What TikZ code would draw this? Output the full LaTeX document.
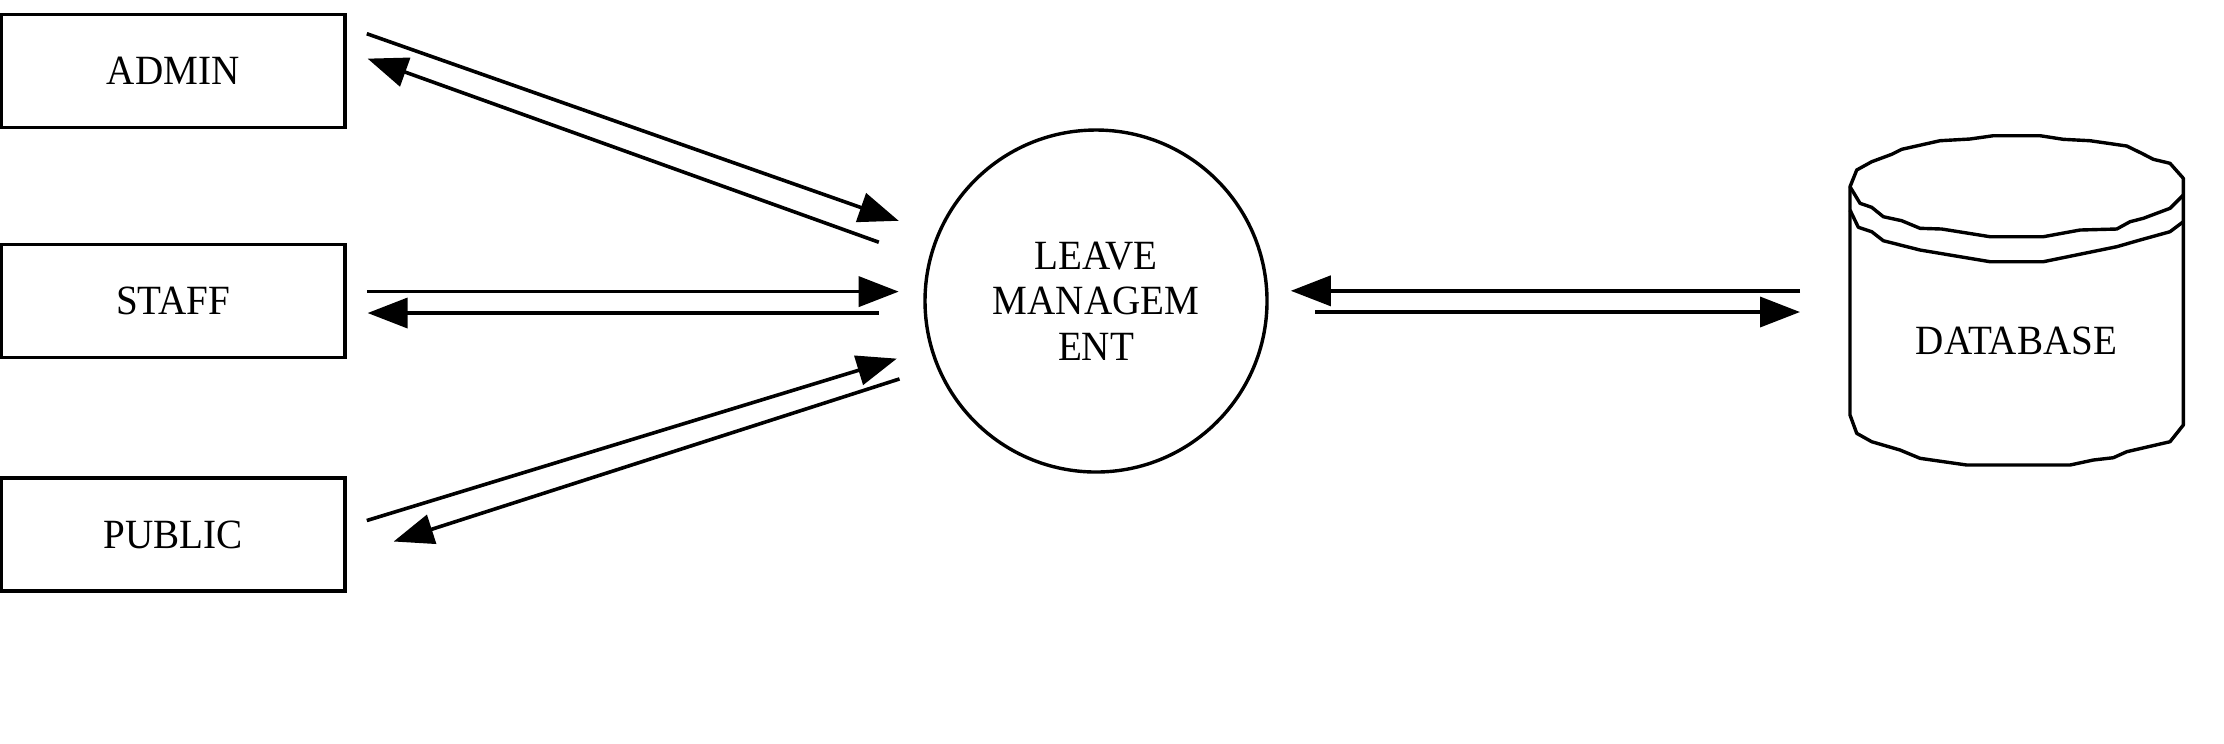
\documentclass[tikz,border=0pt]{standalone}
\usepackage{fontspec}
\setmainfont{Liberation Serif}[FakeStretch=0.94]
\usetikzlibrary{arrows.meta}
\tikzset{
  ent/.style={draw, line width=0.85pt, minimum width=85.9pt, minimum height=28.25pt, inner sep=0pt},
  proc/.style={draw, circle, line width=0.85pt, minimum size=85.5pt, inner sep=0pt, align=center},
  flow/.style={line width=0.9pt, -{Triangle[length=10pt,width=7.5pt]}},
  dbline/.style={line width=0.85pt, line join=round},
  lbl/.style={font=\fontsize{10.4pt}{11.4pt}\selectfont}
}
\begin{document}
\begin{tikzpicture}[x=0.25pt,y=-0.25pt]
\useasboundingbox (0,0) rectangle (2224,743);
\node[ent,lbl] (admin) at (173.25,71) {ADMIN};
\node[ent,lbl] (staff) at (173.25,301) {STAFF};
\node[ent,lbl] (public) at (173.25,534.5) {PUBLIC};
\node[proc,lbl] (lm) at (1096,301) {LEAVE\\MANAGEM\\ENT};
% database cylinder
\draw[dbline] (1850,415) -- (1850,186.7) -- (1856.7,170) -- (1871.7,161.7) -- (1891.7,154.3) -- (1901.7,149.3) -- (1940,140.7) -- (1970,139) -- (1993.3,135.7) -- (2040,135.7) -- (2063.3,139.3) -- (2090,140.7) -- (2126.7,146) -- (2141.7,153.3) -- (2153.3,159.3) -- (2170,163.3) -- (2183.3,178.3) -- (2183.3,425) -- (2170,441.7) -- (2126.7,451.7) -- (2113.3,457.7) -- (2093.3,460) -- (2070,465) -- (1966.7,465) -- (1920,458.3) -- (1900,450) -- (1871.7,441.7) -- (1856.7,433.3) -- cycle;
\draw[dbline] (1850,186.7) -- (1860,203.3) -- (1871.7,207.3) -- (1883.3,216.7) -- (1901.7,220.7) -- (1920,228.3) -- (1941.7,229) -- (1990,236.7) -- (2043.3,236.7) -- (2080,230) -- (2116.7,229) -- (2130,221.7) -- (2143.3,218.3) -- (2170,208.3) -- (2183.3,195);
\draw[dbline] (1850,210) -- (1858.3,227.3) -- (1871.7,231.7) -- (1883.3,240.7) -- (1920,250) -- (1990,261.7) -- (2043.3,261.7) -- (2116.7,246.7) -- (2140,240) -- (2170,231.7) -- (2183.3,221.7);
\node[lbl, inner sep=0pt] (db) at (2016.5,341) {DATABASE};
% connector end points
\coordinate (aos) at (366.8,33.7);  \coordinate (aoe) at (898.7,220.8);
\coordinate (ais) at (878.8,242.2); \coordinate (aie) at (367.6,58.6);
\coordinate (sos) at (366.8,291.6); \coordinate (soe) at (898.7,291.6);
\coordinate (sis) at (878.8,313);   \coordinate (sie) at (367.6,313);
\coordinate (pos) at (366.8,520.5); \coordinate (poe) at (896.8,358.6);
\coordinate (pis) at (899.5,378.9); \coordinate (pie) at (393.6,541.5);
\coordinate (dis) at (1800,290.8);  \coordinate (die) at (1290.8,290.8);
\coordinate (dos) at (1315,312);    \coordinate (doe) at (1800,312);
\draw[flow] (aos) -- (aoe);
\draw[flow] (ais) -- (aie);
\draw[flow] (sos) -- (soe);
\draw[flow] (sis) -- (sie);
\draw[flow] (pos) -- (poe);
\draw[flow] (pis) -- (pie);
\draw[flow] (dis) -- (die);
\draw[flow] (dos) -- (doe);
\end{tikzpicture}
\end{document}
